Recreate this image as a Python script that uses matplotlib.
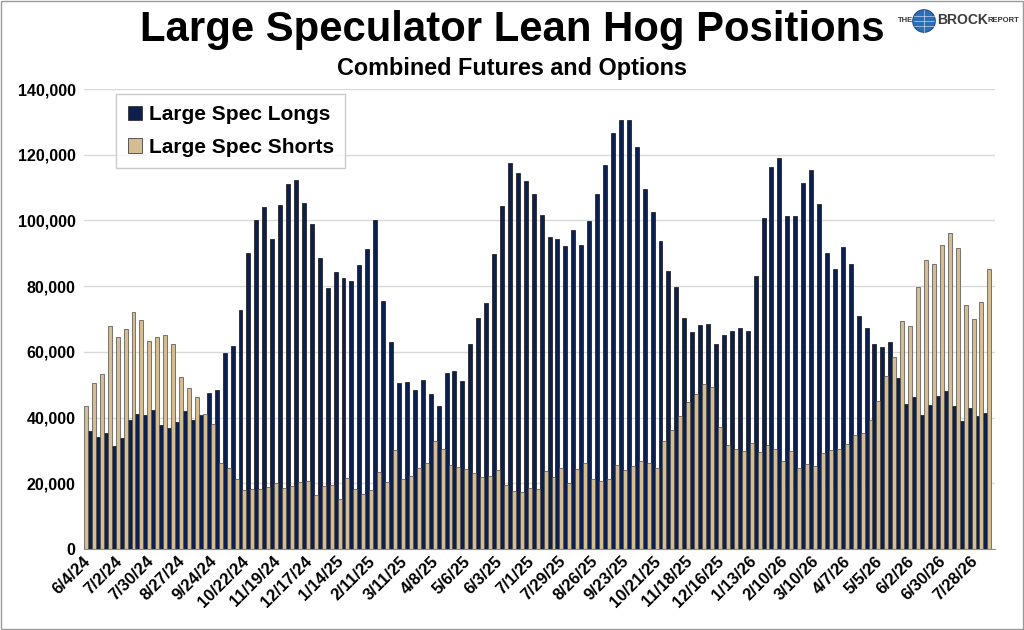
import matplotlib
matplotlib.use("Agg")
import matplotlib.pyplot as plt
import numpy as np
from matplotlib.patches import Circle, Rectangle

plt.rcParams['font.family'] = ['Liberation Sans', 'DejaVu Sans']
plt.rcParams['font.weight'] = 'bold'

# Large spec shorts, thousands of contracts, weekly from 6/4/24
shorts = [43.5, 50.5, 53.4, 68.0, 64.4, 67.0, 72.0, 69.6, 63.2, 64.4,
          65.1, 62.3, 52.2, 48.9, 46.2, 41.2, 38.1, 26.3, 24.7, 21.4,
          18.0, 18.2, 18.2, 19.0, 20.0, 18.5, 19.2, 20.5, 20.7, 16.5,
          19.2, 19.6, 15.2, 21.6, 18.3, 16.8, 17.9, 23.3, 20.4, 30.2,
          21.3, 22.1, 24.7, 26.2, 32.8, 30.5, 25.6, 24.9, 24.2, 23.0,
          21.8, 22.3, 23.9, 19.5, 17.8, 17.3, 18.6, 18.3, 23.8, 21.8,
          24.5, 20.1, 24.4, 26.2, 21.3, 20.8, 21.3, 25.6, 23.9, 25.3,
          26.9, 26.2, 24.6, 33.0, 36.2, 40.4, 44.8, 47.1, 50.3, 49.3,
          37.1, 31.5, 30.4, 29.8, 32.3, 29.4, 31.5, 30.5, 26.8, 29.9,
          24.7, 25.9, 25.2, 29.3, 30.0, 30.5, 32.0, 34.7, 35.3, 39.3,
          44.9, 52.7, 58.3, 69.3, 67.8, 79.8, 87.9, 86.7, 92.4, 96.3,
          91.5, 74.3, 70.1, 75.3, 85.3]

# Large spec longs (last week not reported)
longs = [35.8, 34.1, 35.4, 31.4, 33.8, 39.3, 41.2, 40.8, 42.3, 37.6,
         36.8, 38.8, 41.9, 39.4, 40.9, 47.4, 48.3, 59.5, 61.9, 72.7,
         90.2, 100.0, 104.0, 94.5, 104.6, 111.1, 112.3, 105.2, 98.9, 88.5,
         79.3, 84.3, 82.6, 81.7, 86.5, 91.4, 100.0, 75.6, 62.9, 50.4,
         50.7, 48.3, 51.3, 47.1, 43.5, 53.5, 54.1, 51.2, 62.3, 70.4,
         74.8, 89.9, 104.5, 117.6, 114.5, 112.0, 108.0, 101.8, 95.1, 94.5,
         92.3, 97.1, 92.4, 99.7, 108.1, 117.0, 126.7, 130.5, 130.7, 122.4,
         109.5, 102.6, 93.8, 84.7, 79.8, 70.3, 66.0, 68.3, 68.4, 62.4,
         65.0, 66.4, 67.3, 66.4, 83.2, 100.8, 116.3, 118.9, 101.3, 101.3,
         111.5, 115.3, 104.9, 90.1, 85.1, 92.0, 86.8, 70.8, 67.2, 62.4,
         61.5, 62.9, 52.1, 44.0, 46.2, 40.9, 43.8, 46.6, 48.2, 43.6,
         38.9, 43.0, 40.6, 41.3, np.nan]

tick_labels = ['6/4/24', '7/2/24', '7/30/24', '8/27/24', '9/24/24', '10/22/24',
               '11/19/24', '12/17/24', '1/14/25', '2/11/25', '3/11/25', '4/8/25',
               '5/6/25', '6/3/25', '7/1/25', '7/29/25', '8/26/25', '9/23/25',
               '10/21/25', '11/18/25', '12/16/25', '1/13/26', '2/10/26', '3/10/26',
               '4/7/26', '5/5/26', '6/2/26', '6/30/26', '7/28/26']

navy = '#0c1f4e'
tan = '#d3bd91'

x = np.arange(len(shorts))
s = np.array(shorts) * 1000
l = np.array(longs) * 1000

fig = plt.figure(figsize=(10.24, 6.3), dpi=100)
ax = fig.add_axes([0.082, 0.1286, 0.890, 0.7301])

ax.bar(x + 0.25, l, width=0.5, color=navy, edgecolor='#111111', linewidth=0.5,
       label='Large Spec Longs', zorder=3)
ax.bar(x - 0.25, s, width=0.5, color=tan, edgecolor='#4a4a4a', linewidth=0.5,
       label='Large Spec Shorts', zorder=3)

ax.set_xlim(-0.5, len(shorts) - 0.5)
ax.set_ylim(0, 140000)
ax.set_yticks(np.arange(0, 140001, 20000))
ax.set_yticklabels([f'{v:,}' for v in range(0, 140001, 20000)], fontsize=11.5,
                   fontweight='bold')
ax.set_xticks(x[::4][:len(tick_labels)])
ax.set_xticklabels(tick_labels, rotation=45, ha='right', va='center',
                   rotation_mode='anchor', fontsize=12, fontweight='bold')
ax.tick_params(axis='y', length=0, pad=6)
ax.tick_params(axis='x', length=0, pad=7)
ax.grid(axis='y', color='#d9d9d9', linewidth=1, zorder=0)
for sp in ['top', 'right', 'left']:
    ax.spines[sp].set_visible(False)
ax.spines['bottom'].set_color('#8c8c8c')
ax.spines['bottom'].set_zorder(4)

leg = ax.legend(loc='upper left', bbox_to_anchor=(0.024, 1.012), fontsize=15,
                frameon=True, fancybox=False, edgecolor='#bfbfbf',
                handlelength=0.7, handleheight=0.7, handletextpad=0.3,
                borderpad=0.55, labelspacing=0.65)
leg.get_frame().set_linewidth(1)
for h in leg.legend_handles:
    h.set_edgecolor('#222222')

fig.text(0.5, 0.952, 'Large Speculator Lean Hog Positions', ha='center',
         va='center', fontsize=30.2, fontweight='bold')
fig.text(0.5, 0.892, 'Combined Futures and Options', ha='center',
         va='center', fontsize=16.8, fontweight='bold')

# logo
fig.text(0.877, 0.968, 'THE', ha='left', va='center', fontsize=5.5,
         fontweight='bold', color='#333333')
gax = fig.add_axes([912 / 1024, 1 - 33 / 630, 24 / 1024, 24 / 630])
gax.set_xlim(0, 1)
gax.set_ylim(0, 1)
gax.axis('off')
gax.add_patch(Circle((0.5, 0.5), 0.47, facecolor='#2a6fb5', edgecolor='#1d4f86',
                     linewidth=0.8))
for yy in (0.28, 0.5, 0.72):
    gax.plot([0.1, 0.9], [yy, yy], color='white', linewidth=0.5, alpha=0.7)
gax.plot([0.5, 0.5], [0.05, 0.95], color='white', linewidth=0.5, alpha=0.7)
fig.text(0.915, 0.968, 'BROCK', ha='left', va='center', fontsize=10,
         fontweight='bold', color='#3a3a3a')
fig.text(0.964, 0.968, 'REPORT', ha='left', va='center', fontsize=5.5,
         fontweight='bold', color='#333333')

fig.patches.append(Rectangle((0.001, 0.001), 0.998, 0.998, transform=fig.transFigure,
                             fill=False, edgecolor='#9a9a9a', linewidth=1))

fig.savefig('out.png', dpi=100)
